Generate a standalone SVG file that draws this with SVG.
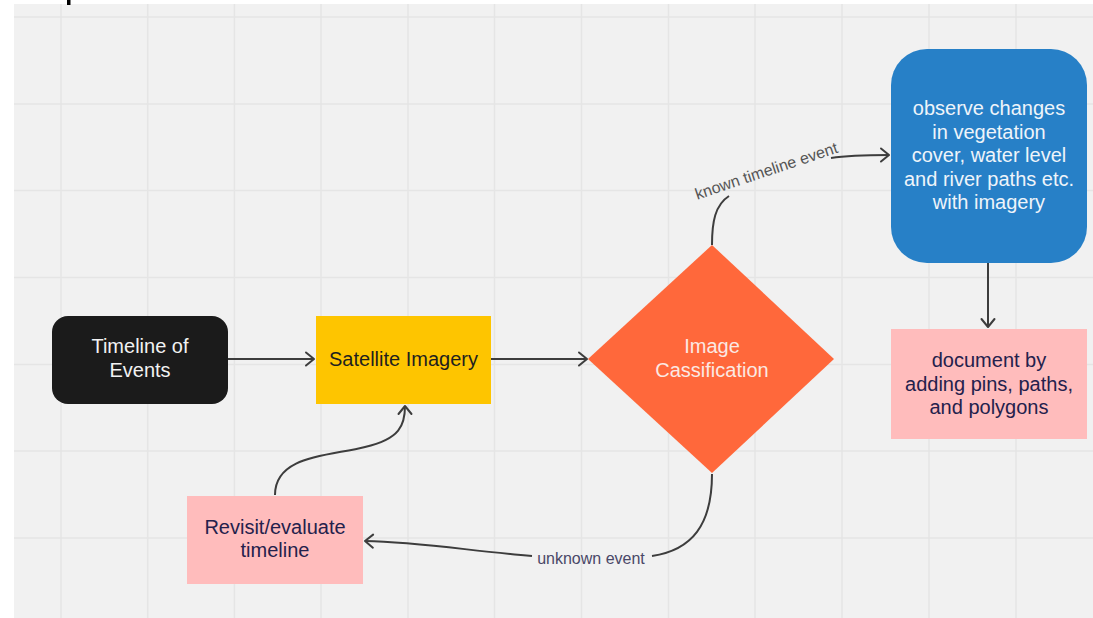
<svg xmlns="http://www.w3.org/2000/svg" width="1093" height="618" viewBox="0 0 1093 618">
<style>
.grid line{stroke:#e5e5e5;stroke-width:1.5}
.conn path{fill:none;stroke:#3d3d3d;stroke-width:2}
.t{font-family:"Liberation Sans",Arial,sans-serif;font-size:20px;text-anchor:middle}
.lbl{font-family:"Liberation Sans",Arial,sans-serif;font-size:16px;text-anchor:middle}
</style>
<defs>
<marker id="arr" markerUnits="userSpaceOnUse" markerWidth="20" markerHeight="20" viewBox="-12 -10 14 20" refX="0" refY="0" orient="auto">
<path d="M-8,-6.5 L0,0 L-8,6.5" fill="none" stroke="#3d3d3d" stroke-width="2" stroke-linecap="round" stroke-linejoin="round"/>
</marker>
</defs>
<rect x="0" y="0" width="1093" height="618" fill="#ffffff"/>
<rect x="14" y="4" width="1079" height="614" fill="#f1f1f1"/>
<rect x="67" y="0" width="3.5" height="5" fill="#000"/>
<g class="grid">
<line x1="61" y1="4" x2="61" y2="618"/>
<line x1="147.7" y1="4" x2="147.7" y2="618"/>
<line x1="234.4" y1="4" x2="234.4" y2="618"/>
<line x1="321" y1="4" x2="321" y2="618"/>
<line x1="408" y1="4" x2="408" y2="618"/>
<line x1="494.5" y1="4" x2="494.5" y2="618"/>
<line x1="581.5" y1="4" x2="581.5" y2="618"/>
<line x1="668.5" y1="4" x2="668.5" y2="618"/>
<line x1="755" y1="4" x2="755" y2="618"/>
<line x1="842" y1="4" x2="842" y2="618"/>
<line x1="929" y1="4" x2="929" y2="618"/>
<line x1="1016" y1="4" x2="1016" y2="618"/>
<line x1="14" y1="17" x2="1093" y2="17"/>
<line x1="14" y1="104" x2="1093" y2="104"/>
<line x1="14" y1="190.5" x2="1093" y2="190.5"/>
<line x1="14" y1="277.5" x2="1093" y2="277.5"/>
<line x1="14" y1="364.5" x2="1093" y2="364.5"/>
<line x1="14" y1="451" x2="1093" y2="451"/>
<line x1="14" y1="538" x2="1093" y2="538"/>
</g>
<g class="conn">
<path d="M228,359 L314,359" marker-end="url(#arr)"/>
<path d="M491,359 L587,359" marker-end="url(#arr)"/>
<path d="M712,245 C712,222 715,205 729,196"/>
<path d="M831,158 C850,155 870,155 889,155" marker-end="url(#arr)"/>
<path d="M988,263 L988,327" marker-end="url(#arr)"/>
<path d="M712,474 C712,525 692,550 652,556"/>
<path d="M532,556 C470,551 420,542 365,541" marker-end="url(#arr)"/>
<path d="M275,495 C275,455 330,456 365,447 C400,439 405,425 405,406" marker-end="url(#arr)"/>
<text class="lbl" fill="#555555" transform="translate(768,176) rotate(-18.5)">known timeline event</text>
<text class="lbl" x="591" y="564" fill="#4a4868">unknown event</text>
</g>
<g id="timeline">
<rect x="52" y="316" width="176" height="88" rx="16" fill="#1b1b1b"/>
<text class="t" fill="#f2f2f2" x="140" y="353">Timeline of</text>
<text class="t" fill="#f2f2f2" x="140" y="377">Events</text>
</g>
<g id="satellite">
<rect x="316" y="316" width="175" height="88" fill="#fec500"/>
<text class="t" fill="#1f1f1f" x="403.5" y="366">Satellite Imagery</text>
</g>
<g id="classification">
<polygon points="712,245 834,359 712,473 588,359" fill="#ff683b"/>
<text class="t" fill="#fbe9e3" x="712" y="353">Image</text>
<text class="t" fill="#fbe9e3" x="712" y="377">Cassification</text>
</g>
<g id="observe">
<rect x="891" y="49" width="196" height="214" rx="36" fill="#2780c7"/>
<text class="t" fill="#eef4fa" x="989" y="115">observe changes</text>
<text class="t" fill="#eef4fa" x="989" y="138.5">in vegetation</text>
<text class="t" fill="#eef4fa" x="989" y="162">cover, water level</text>
<text class="t" fill="#eef4fa" x="989" y="185.5">and river paths etc.</text>
<text class="t" fill="#eef4fa" x="989" y="209">with imagery</text>
</g>
<g id="document">
<rect x="891" y="329" width="196" height="110" fill="#ffbcbc"/>
<text class="t" fill="#24214c" x="989" y="367">document by</text>
<text class="t" fill="#24214c" x="989" y="390.5">adding pins, paths,</text>
<text class="t" fill="#24214c" x="989" y="414">and polygons</text>
</g>
<g id="revisit">
<rect x="187" y="496" width="176" height="88" fill="#ffbcbc"/>
<text class="t" fill="#24214c" x="275" y="534">Revisit/evaluate</text>
<text class="t" fill="#24214c" x="275" y="557">timeline</text>
</g>
</svg>
